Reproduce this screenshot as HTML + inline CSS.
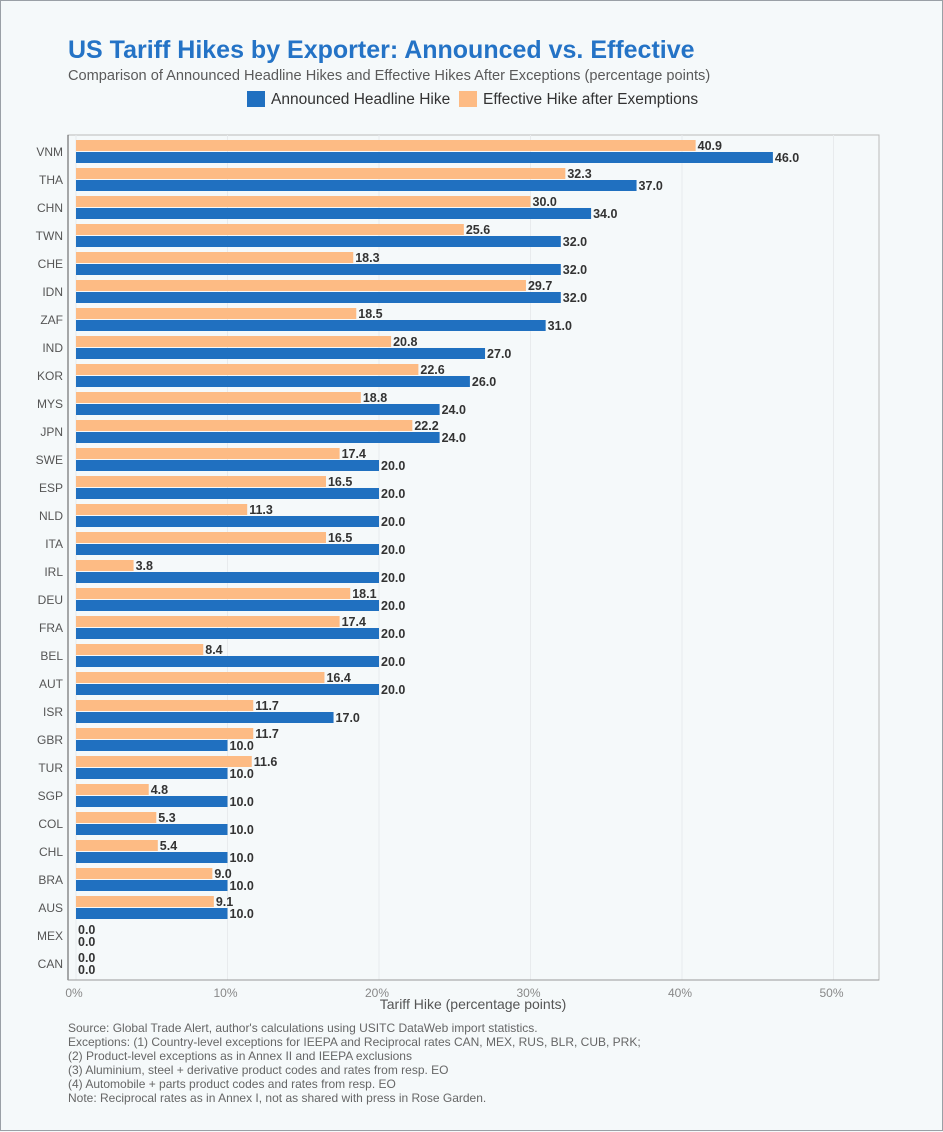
<!DOCTYPE html>
<html><head><meta charset="utf-8"><style>
body{margin:0;background:#f5f9fa;font-family:"Liberation Sans",sans-serif;}
#wrap{position:relative;width:941px;height:1129px;border:1px solid #9aa0a6;background:#f5f9fa;}
.t{position:absolute;white-space:nowrap;}
</style></head><body>
<div id="wrap">
<div class="t" style="left:67px;top:35px;font-size:25px;font-weight:bold;color:#2473c6;">US Tariff Hikes by Exporter: Announced vs. Effective</div>
<div class="t" style="left:67px;top:67px;font-size:14.6px;color:#5a5a5a;">Comparison of Announced Headline Hikes and Effective Hikes After Exceptions (percentage points)</div>
<div class="t" style="left:246px;top:90px;font-size:15.5px;color:#333;"><span style="display:inline-block;width:18px;height:16px;background:#2070c0;vertical-align:-3px;margin-right:6px"></span>Announced Headline Hike</div>
<div class="t" style="left:458px;top:90px;font-size:15.5px;color:#333;"><span style="display:inline-block;width:18px;height:16px;background:#fdbb84;vertical-align:-3px;margin-right:6px"></span>Effective Hike after Exemptions</div>
<svg id="chart" width="943" height="1131" style="position:absolute;left:0;top:0"></svg>
<div class="t" style="left:67px;top:1020px;font-size:12px;line-height:14px;color:#666;">Source: Global Trade Alert, author's calculations using USITC DataWeb import statistics.<br>Exceptions: (1) Country-level exceptions for IEEPA and Reciprocal rates CAN, MEX, RUS, BLR, CUB, PRK;<br>(2) Product-level exceptions as in Annex II and IEEPA exclusions<br>(3) Aluminium, steel + derivative product codes and rates from resp. EO<br>(4) Automobile + parts product codes and rates from resp. EO<br>Note: Reciprocal rates as in Annex I, not as shared with press in Rose Garden.</div>
</div>
<script>
const categories=["VNM","THA","CHN","TWN","CHE","IDN","ZAF","IND","KOR","MYS","JPN","SWE","ESP","NLD","ITA","IRL","DEU","FRA","BEL","AUT","ISR","GBR","TUR","SGP","COL","CHL","BRA","AUS","MEX","CAN"];
const announced=[46.0,37.0,34.0,32.0,32.0,32.0,31.0,27.0,26.0,24.0,24.0,20.0,20.0,20.0,20.0,20.0,20.0,20.0,20.0,20.0,17.0,10.0,10.0,10.0,10.0,10.0,10.0,10.0,0.0,0.0];
const effective=[40.9,32.3,30.0,25.6,18.3,29.7,18.5,20.8,22.6,18.8,22.2,17.4,16.5,11.3,16.5,3.8,18.1,17.4,8.4,16.4,11.7,11.7,11.6,4.8,5.3,5.4,9.0,9.1,0.0,0.0];
const ticks=[0,10,20,30,40,50];
const svg=document.getElementById('chart');const NS='http://www.w3.org/2000/svg';
const x=v=>75+v*15.15;
const yRow=i=>139+i*28;
const L=67,T=134,R=878,B=979;
function mk(tag,attrs,name){const e=document.createElementNS(NS,tag);for(const k in attrs)e.setAttribute(k,attrs[k]);


svg.appendChild(e);return e;}
mk('rect',{x:L,y:T,width:R-L,height:B-T,fill:'#f5f9fa',stroke:'#bbb'},'plot-area');
ticks.forEach(t=>{mk('line',{x1:x(t),x2:x(t),y1:T,y2:B,stroke:'#e8ebed'},'gridline-'+t);
const tx=mk('text',{x:x(t)-2,y:996,'text-anchor':'middle','font-size':12,fill:'#888'},'x-tick-'+t);tx.textContent=t+'%';});
mk('line',{x1:L,x2:L,y1:T,y2:B,stroke:'#555'},'y-axis-line');
mk('line',{x1:L,x2:R,y1:B,y2:B,stroke:'#999'},'x-axis-line');
const xt=mk('text',{x:472,y:1008,'text-anchor':'middle','font-size':14,fill:'#555'},'x-axis-title');xt.textContent='Tariff Hike (percentage points)';
categories.forEach((c,i)=>{const y=yRow(i);
const lb=mk('text',{x:62,y:y+16,'text-anchor':'end','font-size':12,fill:'#555'},'y-label-'+c.toLowerCase());lb.textContent=c;
mk('rect',{x:x(0),y:y,width:x(effective[i])-x(0),height:11,fill:'#fdbb84'},'bar-effective-'+c.toLowerCase());
mk('rect',{x:x(0),y:y+12,width:x(announced[i])-x(0),height:11,fill:'#2070c0'},'bar-announced-'+c.toLowerCase());
const e=mk('text',{x:x(effective[i])+2,y:y+10,'font-size':12.5,'font-weight':'bold',fill:'#333'},'value-effective-'+c.toLowerCase());e.textContent=effective[i].toFixed(1);
const a=mk('text',{x:x(announced[i])+2,y:y+22,'font-size':12.5,'font-weight':'bold',fill:'#333'},'value-announced-'+c.toLowerCase());a.textContent=announced[i].toFixed(1);
});
</script>
</body></html>
